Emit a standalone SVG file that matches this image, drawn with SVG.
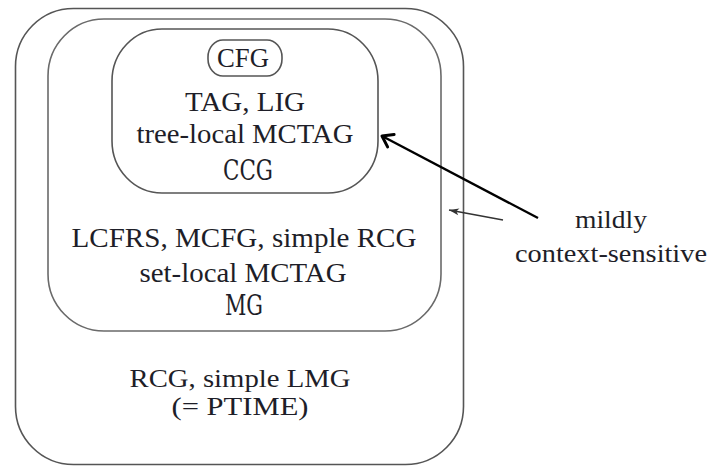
<svg xmlns="http://www.w3.org/2000/svg" width="712" height="466" viewBox="0 0 712 466">
<defs>
<style>
.box{fill:none;stroke:#555;stroke-width:1.6}
.box2{fill:none;stroke:#6a6a6a;stroke-width:1.6}
.t{font-family:"Liberation Serif","Times New Roman",serif;font-size:27px;fill:#1e1e28;text-anchor:middle}
.t2{font-family:"Liberation Serif","Times New Roman",serif;font-size:26px;fill:#1e1e28;text-anchor:middle}
.s{font-family:"DejaVu Serif",serif;font-size:27px;fill:#1e1e28;text-anchor:middle}
.lab{font-family:"Liberation Serif","Times New Roman",serif;font-size:26px;fill:#1e1e28;text-anchor:middle}
</style>
<marker id="bigHead" viewBox="0 0 20 20" refX="13" refY="10" markerWidth="20" markerHeight="20" markerUnits="userSpaceOnUse" orient="auto">
<path d="M3,3 L13,10 L3,17" fill="none" stroke="#000" stroke-width="3" stroke-linecap="round" stroke-linejoin="round"/>
</marker>
<marker id="smallHead" viewBox="0 0 12 12" refX="11" refY="6" markerWidth="12" markerHeight="12" markerUnits="userSpaceOnUse" orient="auto">
<path d="M11,6 L1,2.5 L3.5,6 L1,9.5 Z" fill="#333"/>
</marker>
</defs>
<rect width="712" height="466" fill="#fff"/>
<g id="ptime">
<rect class="box" x="15.5" y="8.5" width="448" height="456" rx="58" ry="58"/>
<text class="t2" x="240" y="387" textLength="221" lengthAdjust="spacingAndGlyphs">RCG, simple LMG</text>
<text class="t2" x="240" y="415" textLength="137" lengthAdjust="spacingAndGlyphs">(= PTIME)</text>
</g>
<g id="mcs">
<rect class="box2" x="48" y="19" width="393" height="312" rx="56" ry="57"/>
<text class="t" x="244" y="247" textLength="345" lengthAdjust="spacingAndGlyphs">LCFRS, MCFG, simple RCG</text>
<text class="t" x="243" y="282" textLength="207" lengthAdjust="spacingAndGlyphs">set-local MCTAG</text>
<text class="s" x="244" y="315" textLength="38" lengthAdjust="spacingAndGlyphs">MG</text>
</g>
<g id="tag">
<rect class="box" x="112" y="29" width="266" height="164" rx="50" ry="52"/>
<text class="t" x="245" y="111" textLength="120" lengthAdjust="spacingAndGlyphs">TAG, LIG</text>
<text class="t" x="245" y="143" textLength="217" lengthAdjust="spacingAndGlyphs">tree-local MCTAG</text>
<text class="s" x="248" y="180" textLength="50" lengthAdjust="spacingAndGlyphs">CCG</text>
</g>
<g id="cfg">
<rect class="box" x="208" y="40" width="74" height="36" rx="15" ry="17"/>
<text class="t" x="243" y="67" textLength="52" lengthAdjust="spacingAndGlyphs">CFG</text>
</g>
<g id="label">
<text class="lab" x="611" y="228" textLength="72" lengthAdjust="spacingAndGlyphs">mildly</text>
<text class="lab" x="611" y="262" textLength="192" lengthAdjust="spacingAndGlyphs">context-sensitive</text>
</g>
<g id="connectors">
<line x1="538" y1="218" x2="382" y2="136" stroke="#000" stroke-width="2.4" marker-end="url(#bigHead)"/>
<line x1="503" y1="220" x2="449" y2="210" stroke="#333" stroke-width="1.6" marker-end="url(#smallHead)"/>
</g>
</svg>
